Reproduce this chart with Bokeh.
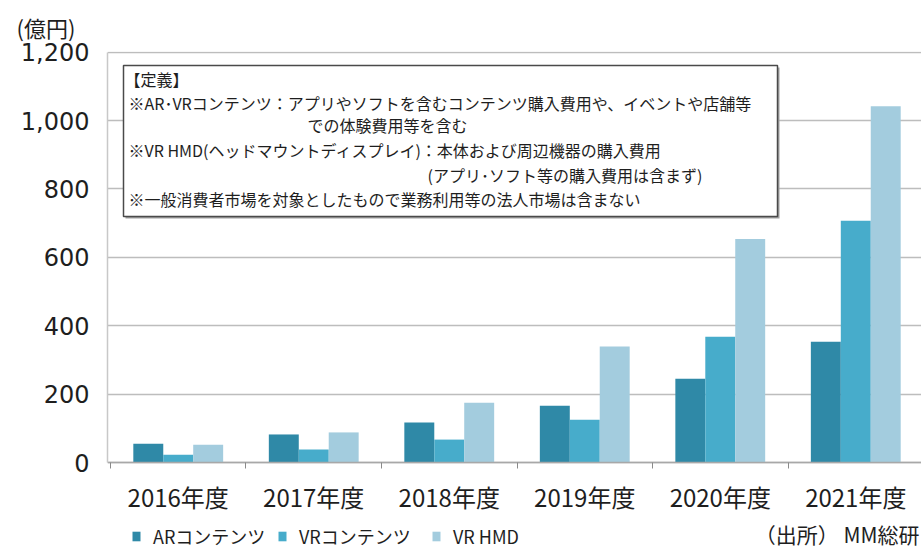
from bokeh.plotting import figure
from bokeh.models import (FixedTicker, NumeralTickFormatter, Label, BoxAnnotation,
                          Legend, LegendItem, ColumnDataSource, Range1d, Title)
from bokeh.transform import dodge
from bokeh.embed import file_html
from bokeh.resources import INLINE

# ---------------- data ----------------
years = ["2016年度", "2017年度", "2018年度", "2019年度", "2020年度", "2021年度"]
ar_contents = [55, 82, 117, 166, 245, 353]
vr_contents = [23, 38, 67, 125, 368, 707]
vr_hmd = [52, 88, 175, 339, 654, 1042]
series_names = ["ARコンテンツ", "VRコンテンツ", "VR HMD"]
y_ticks = [0, 200, 400, 600, 800, 1000, 1200]
unit_label = "(億円)"
source_label = "（出所） MM総研"
definition_lines = [
    "【定義】",
    "※AR･VRコンテンツ：アプリやソフトを含むコンテンツ購入費用や、イベントや店舗等",
    "での体験費用等を含む",
    "※VR HMD(ヘッドマウントディスプレイ)：本体および周辺機器の購入費用",
    "(アプリ･ソフト等の購入費用は含まず)",
    "※一般消費者市場を対象としたもので業務利用等の法人市場は含まない",
]

# ---------------- style ----------------
colors = ["#2F89A7", "#47ACCB", "#A3CCDE"]
W, H = 921, 549
LEFT, TOP = 107, 51
JP = "Noto Sans CJK JP"
TXT = "#1e1e1e"

centers = [i + 0.5 for i in range(len(years))]
bw = 0.221
x_start, x_end = -0.022, 5.985
y_top = 1202
# frame reaches the bottom of the canvas; value 0 sits 87 px above it
px_per_unit = (H - 87 - TOP) / y_top
y_start = -87 / px_per_unit

p = figure(width=W, height=H, output_backend="svg", toolbar_location=None,
           x_range=Range1d(x_start, x_end), y_range=Range1d(y_start, y_top),
           min_border_left=LEFT, min_border_right=0,
           min_border_top=TOP, min_border_bottom=0)
p.outline_line_color = None
p.background_fill_color = "white"
p.border_fill_color = "white"

src = ColumnDataSource(dict(x=centers, ar=ar_contents, vr=vr_contents, hmd=vr_hmd))
r1 = p.vbar(x=dodge("x", -bw), top="ar", width=bw, source=src,
            fill_color=colors[0], line_color=None)
r2 = p.vbar(x=dodge("x", 0), top="vr", width=bw, source=src,
            fill_color=colors[1], line_color=None)
r3 = p.vbar(x=dodge("x", bw), top="hmd", width=bw, source=src,
            fill_color=colors[2], line_color=None)

# axes
p.xaxis.fixed_location = 0
p.xaxis.bounds = (x_start, x_end)
p.xaxis.ticker = FixedTicker(ticks=centers, minor_ticks=list(range(len(years) + 1)))
p.xaxis.major_label_overrides = {c: y for c, y in zip(centers, years)}
p.xaxis.major_tick_out = 0
p.xaxis.major_tick_in = 0
p.xaxis.minor_tick_out = 6
p.xaxis.minor_tick_in = 0
p.xaxis.minor_tick_line_color = "#8a8a8a"
p.xaxis.axis_line_color = "#a8a8a8"
p.xaxis.axis_line_width = 1.5
p.xaxis.major_label_text_font = JP
p.xaxis.major_label_text_font_size = "24px"
p.xaxis.major_label_text_color = TXT
p.xaxis.major_label_standoff = 10

p.yaxis.bounds = (0, 1200)
p.yaxis.ticker = FixedTicker(ticks=y_ticks)
p.yaxis.formatter = NumeralTickFormatter(format="0,0")
p.yaxis.major_tick_out = 0
p.yaxis.major_tick_in = 0
p.yaxis.minor_tick_line_color = None
p.yaxis.axis_line_color = "#c8c8c8"
p.yaxis.axis_line_width = 1.5
p.yaxis.major_label_text_font = "DejaVu Sans"
p.yaxis.major_label_text_font_size = "24px"
p.yaxis.major_label_text_color = TXT
p.yaxis.major_label_standoff = 18

p.xgrid.visible = False
p.ygrid.ticker = FixedTicker(ticks=y_ticks)
p.ygrid.grid_line_color = "#bdbdbd"
p.ygrid.grid_line_width = 1.5


def sx(cx):
    return cx - LEFT


def sy(cy):
    return H - cy


def label(text, cx, cy, size, align="left", font=JP):
    p.add_layout(Label(x=sx(cx), y=sy(cy), x_units="screen", y_units="screen",
                       text=text, text_font=font, text_font_size=size,
                       text_color=TXT, text_align=align, text_baseline="middle"))


# definition box (shadow + box)
p.add_layout(BoxAnnotation(left=sx(125), right=sx(779), top=sy(67), bottom=sy(218),
                           left_units="screen", right_units="screen",
                           top_units="screen", bottom_units="screen",
                           fill_color="#a0a0a0", fill_alpha=1, line_color=None))
p.add_layout(BoxAnnotation(left=sx(123), right=sx(777), top=sy(65), bottom=sy(216),
                           left_units="screen", right_units="screen",
                           top_units="screen", bottom_units="screen",
                           fill_color="white", fill_alpha=1,
                           line_color="#4a4a4a", line_width=1.5, line_alpha=1))

line_pos = [(124, 78), (128, 102), (307, 124), (128, 149), (427, 174), (128, 198)]
for txt, (cx, cy) in zip(definition_lines, line_pos):
    label(txt, cx, cy, "16px")

label(source_label, 919, 533, "21px", align="right")

# unit label above the frame
p.add_layout(Title(text=unit_label, align="left", offset=-(LEFT - 16), standoff=14,
                   vertical_align="top",
                   text_font=JP, text_font_size="22px", text_font_style="normal",
                   text_color=TXT), "above")

# legends, one per item
for name, r, cx in zip(series_names, [r1, r2, r3], [131, 277, 431]):
    lg = Legend(items=[LegendItem(label=name, renderers=[r])],
                location=(sx(cx), 0), orientation="horizontal",
                glyph_width=10, glyph_height=12, label_standoff=12,
                padding=0, margin=0, border_line_color=None,
                background_fill_alpha=0,
                label_text_font=JP, label_text_font_size="18px",
                label_text_color=TXT)
    p.add_layout(lg)

open("out.html", "w").write(file_html(p, INLINE))
